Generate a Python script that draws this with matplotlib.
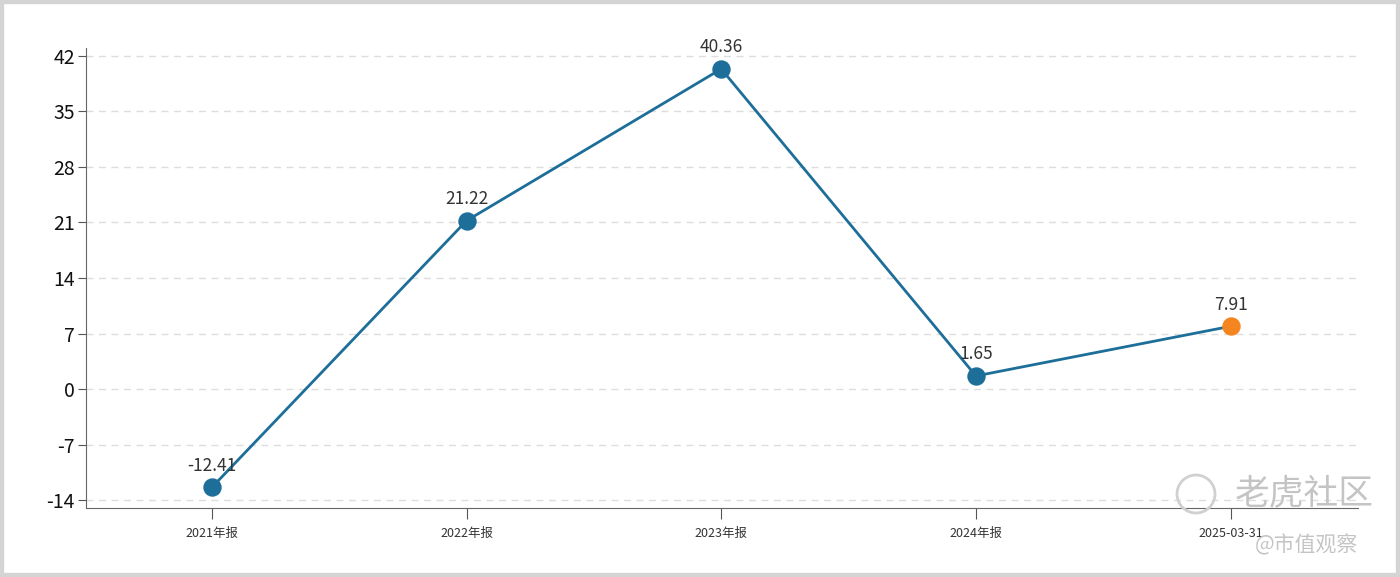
import matplotlib.pyplot as plt
from matplotlib.patches import Rectangle, Ellipse

plt.rcParams['font.family'] = ['Noto Sans CJK SC', 'DejaVu Sans']

periods = ['2021年报', '2022年报', '2023年报', '2024年报', '2025-03-31']
values = [-12.41, 21.22, 40.36, 1.65, 7.91]
yticks = [-14, -7, 0, 7, 14, 21, 28, 35, 42]

line_color = '#1d6e99'
last_color = '#f5861f'

fig = plt.figure(figsize=(14, 5.77), dpi=100)
fig.patches.append(Rectangle((0, 0), 1, 1, transform=fig.transFigure,
                             fill=False, edgecolor='#d4d4d4', linewidth=6))
ax = fig.add_axes([0.0614, 0.1196, 0.9086, 0.7972])

x = list(range(len(periods)))
ax.plot(x, values, color=line_color, linewidth=2.0, zorder=3)
ax.scatter(x[:-1], values[:-1], s=150, color=line_color, zorder=4)
ax.scatter(x[-1:], values[-1:], s=150, color=last_color, zorder=4)

for xi, v in zip(x, values):
    ax.annotate(f'{v:.2f}', (xi, v), xytext=(0, 9), textcoords='offset points',
                ha='center', va='bottom', fontsize=12.5, color='#333333')

ax.set_xlim(-0.494, 4.5)
ax.set_ylim(-15, 43)
ax.set_yticks(yticks)
ax.set_yticklabels([str(t) for t in yticks], fontsize=14, color='#111111')
ax.set_xticks(x)
ax.set_xticklabels(periods, fontsize=9, color='#333333')
ax.tick_params(axis='y', length=6, color='#555555', pad=2)
ax.tick_params(axis='x', length=8, color='#555555', pad=6)

ax.grid(axis='y', linestyle=(0, (5, 4)), color='#dddddd', linewidth=1)
ax.set_axisbelow(True)
for side in ['top', 'right']:
    ax.spines[side].set_visible(False)
for side in ['left', 'bottom']:
    ax.spines[side].set_color('#666666')

# watermark
fig.patches.append(Ellipse((1196 / 1400, 1 - 494 / 577), 38 / 1400, 38 / 577,
                           transform=fig.transFigure, fill=False,
                           edgecolor='#d0d0d0', linewidth=2))
fig.text(0.882, 1 - 494 / 577, '老虎社区', fontsize=25, color='#c4c4c4',
         ha='left', va='center')
fig.text(0.896, 1 - 545 / 577, '@市值观察', fontsize=15, color='#c4c4c4',
         ha='left', va='center')

fig.savefig('out.png', dpi=100)
